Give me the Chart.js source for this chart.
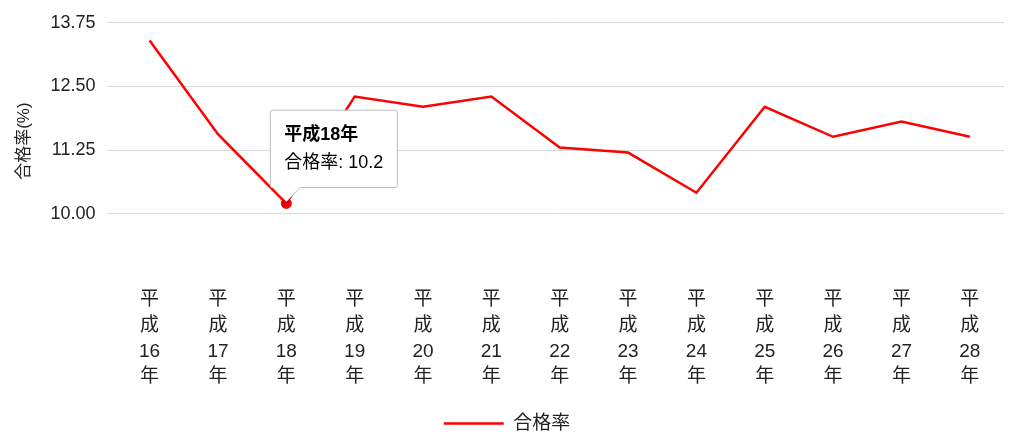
<!DOCTYPE html>
<html lang="ja">
<head>
<meta charset="UTF-8">
<title>合格率</title>
<script src="https://cdn.jsdelivr.net/npm/chart.js"></script>
<style>
  body { margin: 0; background: #fff; }
  #wrap { position: relative; width: 1024px; height: 443px; }
</style>
</head>
<body>
<div id="wrap"><canvas id="c"></canvas></div>
<script>
const years = ['16', '17', '18', '19', '20', '21', '22', '23', '24', '25', '26', '27', '28'];
const rates = [13.40, 11.56, 10.2, 12.30, 12.10, 12.30, 11.30, 11.20, 10.41, 12.10, 11.51, 11.81, 11.51];
const yTicks = [10.00, 11.25, 12.50, 13.75];

const labels = years.map(y => ['平', '成', y, '年']);
const font = "'Liberation Sans', 'Noto Sans CJK JP', sans-serif";

const chart = new Chart(document.getElementById('c'), {
  type: 'line',
  data: {
    labels: labels,
    datasets: [{
      label: '合格率',
      data: rates,
      borderColor: '#ff0000',
      backgroundColor: '#ff0000',
      borderWidth: 2.5,
      tension: 0,
      pointRadius: 0,
      pointHoverRadius: 5
    }]
  },
  options: {
    responsive: true,
    maintainAspectRatio: false,
    animation: false,
    layout: { padding: { left: 10, right: 20, top: 6, bottom: 0 } },
    scales: {
      x: {
        offset: true,
        grid: { display: false },
        border: { display: false },
        ticks: { color: '#222', font: { family: font, size: 19, lineHeight: 1.35 }, maxRotation: 0, padding: 20 }
      },
      y: {
        min: 9.1, max: 13.75,
        afterBuildTicks: axis => { axis.ticks = yTicks.map(v => ({ value: v })); },
        grid: { color: '#d9d9d9' },
        border: { display: false },
        title: { display: true, text: '合格率(%)', color: '#222', font: { family: font, size: 17 } },
        ticks: { color: '#222', font: { family: font, size: 18 }, padding: 12, callback: v => v.toFixed(2) }
      }
    },
    plugins: {
      legend: {
        position: 'bottom',
        labels: {
          color: '#222', font: { family: font, size: 19 },
          boxWidth: 60, boxHeight: 0, padding: 4
        }
      },
      tooltip: {
        backgroundColor: '#fff',
        borderColor: '#bbb',
        borderWidth: 1,
        titleColor: '#000',
        bodyColor: '#000',
        titleFont: { family: font, size: 18, weight: 'bold' },
        bodyFont: { family: font, size: 18 },
        padding: 14,
        caretSize: 14,
        cornerRadius: 2,
        displayColors: false,
        xAlign: 'left',
        yAlign: 'bottom',
        callbacks: {
          title: items => '平成' + years[items[0].dataIndex] + '年',
          label: item => '合格率: ' + item.raw
        }
      }
    }
  }
});
chart.setActiveElements([{ datasetIndex: 0, index: 2 }]);
chart.tooltip.setActiveElements([{ datasetIndex: 0, index: 2 }], { x: 0, y: 0 });
chart.update();
</script>
</body>
</html>
